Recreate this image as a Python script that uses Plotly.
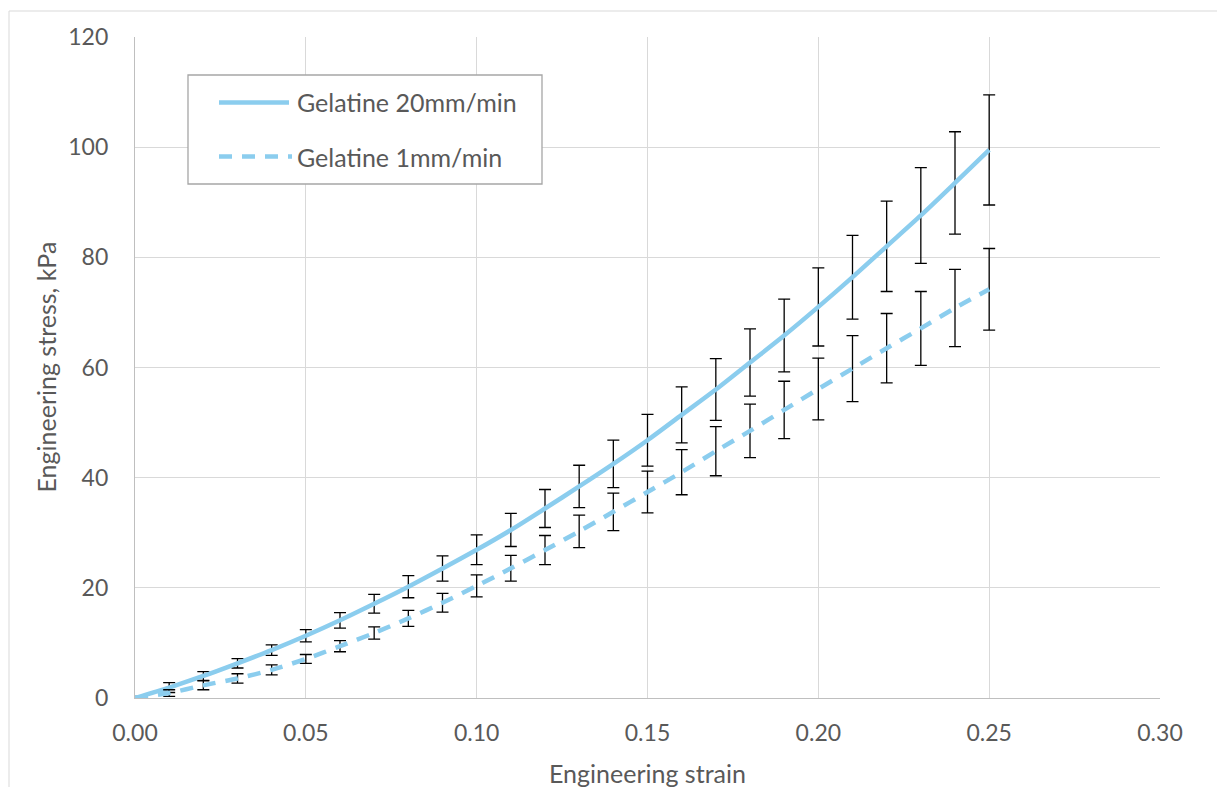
import plotly.graph_objects as go

strain = [0.00, 0.01, 0.02, 0.03, 0.04, 0.05, 0.06, 0.07, 0.08, 0.09, 0.10, 0.11, 0.12,
          0.13, 0.14, 0.15, 0.16, 0.17, 0.18, 0.19, 0.20, 0.21, 0.22, 0.23, 0.24, 0.25]
stress_20 = [0.0, 1.9, 4.0, 6.3, 8.7, 11.3, 14.1, 17.1, 20.2, 23.5, 26.9, 30.5, 34.4,
             38.4, 42.5, 46.8, 51.4, 56.0, 60.9, 65.8, 71.0, 76.4, 82.0, 87.6, 93.5, 99.5]
err_20 = [0.3, 0.9, 0.8, 0.85, 0.95, 1.1, 1.4, 1.7, 2.0, 2.3, 2.7, 3.0, 3.45,
          3.85, 4.3, 4.7, 5.1, 5.6, 6.1, 6.6, 7.1, 7.6, 8.2, 8.7, 9.3, 10.0]
stress_1 = [0.0, 0.9, 2.3, 3.55, 5.1, 7.1, 9.4, 11.8, 14.45, 17.3, 20.35, 23.55, 26.85,
            30.25, 33.8, 37.4, 41.0, 44.8, 48.5, 52.3, 56.1, 59.8, 63.5, 67.1, 70.8, 74.2]
err_1 = [0.2, 0.6, 0.8, 0.85, 0.9, 0.8, 1.0, 1.1, 1.45, 1.7, 2.0, 2.35, 2.65,
         2.95, 3.4, 3.8, 4.1, 4.45, 4.85, 5.2, 5.6, 6.0, 6.3, 6.7, 7.0, 7.4]
names = ["Gelatine 20mm/min", "Gelatine 1mm/min"]
x_title = "Engineering strain"
y_title = "Engineering stress, kPa"
x_ticks = [0.00, 0.05, 0.10, 0.15, 0.20, 0.25, 0.30]
x_tick_text = ["0.00", "0.05", "0.10", "0.15", "0.20", "0.25", "0.30"]
y_ticks = [0, 20, 40, 60, 80, 100, 120]

LINE_COLOR = "#8BCDEE"
TEXT_COLOR = "#595959"
FONT = "Lato"
FS = 23
FS_T = 25
W, H = 1217, 787
ML, MR, MT, MB = 135, 57, 37, 89
PW, PH = W - ML - MR, H - MT - MB


def px(x):
    return (x - ML) / PW


def py(y):
    return (H - MB - y) / PH


fig = go.Figure()
fig.add_trace(go.Scatter(
    x=strain, y=stress_20, mode="lines", name=names[0], showlegend=False,
    line=dict(color=LINE_COLOR, width=4.5, shape="spline", smoothing=0.8),
    error_y=dict(type="data", array=err_20, color="black", thickness=1.3, width=6),
))
fig.add_trace(go.Scatter(
    x=strain, y=stress_1, mode="lines", name=names[1], showlegend=False,
    line=dict(color=LINE_COLOR, width=4.5, shape="spline", smoothing=0.8, dash="13px,10px"),
    error_y=dict(type="data", array=err_1, color="black", thickness=1.3, width=6),
))

shapes = [
    # outer chart border
    dict(type="rect", xref="paper", yref="paper",
         x0=px(9), x1=px(1230), y0=py(800), y1=py(11),
         line=dict(color="#D9D9D9", width=1), layer="below"),
    # legend box
    dict(type="rect", xref="paper", yref="paper",
         x0=px(188), x1=px(542), y0=py(184), y1=py(75),
         line=dict(color="#A6A6A6", width=1.3), fillcolor="white", layer="above"),
    dict(type="line", xref="paper", yref="paper",
         x0=px(219), x1=px(289), y0=py(102.5), y1=py(102.5),
         line=dict(color=LINE_COLOR, width=4.5)),
    dict(type="line", xref="paper", yref="paper",
         x0=px(219), x1=px(292), y0=py(156.5), y1=py(156.5),
         line=dict(color=LINE_COLOR, width=4.5, dash="13px,10px")),
]
tfont = dict(family=FONT, size=FS_T, color=TEXT_COLOR)
annotations = [
    dict(text=names[0], xref="paper", yref="paper", x=px(295), y=py(102.5),
         xanchor="left", yanchor="middle", showarrow=False, font=tfont),
    dict(text=names[1], xref="paper", yref="paper", x=px(295), y=py(156.5),
         xanchor="left", yanchor="middle", showarrow=False, font=tfont),
    dict(text=x_title, xref="paper", yref="paper", x=px(647), y=py(773),
         xanchor="center", yanchor="middle", showarrow=False, font=tfont),
    dict(text=y_title, xref="paper", yref="paper", x=px(45), y=py(367.5),
         xanchor="center", yanchor="middle", showarrow=False, font=tfont,
         textangle=-90),
]

fig.update_layout(
    width=W, height=H,
    margin=dict(l=ML, r=MR, t=MT, b=MB, autoexpand=False),
    paper_bgcolor="white", plot_bgcolor="white",
    font=dict(family=FONT, size=FS, color=TEXT_COLOR),
    shapes=shapes, annotations=annotations,
    showlegend=False,
)
fig.update_xaxes(
    range=[0, 0.30], tickvals=x_ticks, ticktext=x_tick_text,
    showgrid=True, gridcolor="#D9D9D9", gridwidth=1.3,
    showline=True, linecolor="#BFBFBF", linewidth=1.3,
    zeroline=False, ticks="", ticklabelstandoff=14, automargin=False,
)
fig.update_yaxes(
    range=[0, 120], tickvals=y_ticks,
    showgrid=True, gridcolor="#D9D9D9", gridwidth=1.3,
    showline=True, linecolor="#BFBFBF", linewidth=1.3,
    zeroline=False, ticks="", ticklabelstandoff=21, automargin=False,
)

fig.write_html("out.html")
